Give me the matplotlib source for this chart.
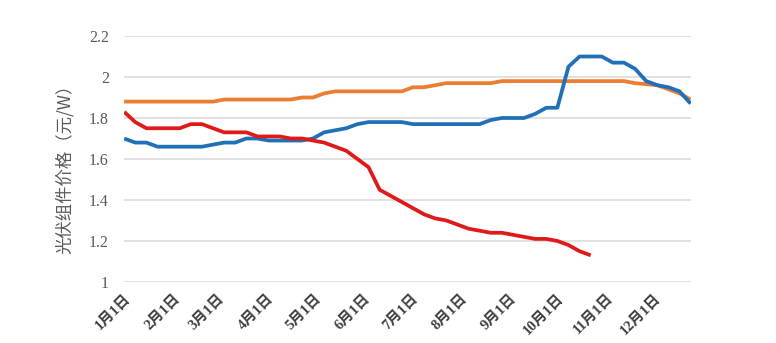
import numpy as np
import matplotlib
matplotlib.use('Agg')
import matplotlib.pyplot as plt

# weekly prices (yuan/W), one point per week of the year
blue = [1.70, 1.68, 1.68, 1.66, 1.66, 1.66, 1.66, 1.66, 1.67, 1.68, 1.68, 1.70,
        1.70, 1.69, 1.69, 1.69, 1.69, 1.70, 1.73, 1.74, 1.75, 1.77, 1.78, 1.78,
        1.78, 1.78, 1.77, 1.77, 1.77, 1.77, 1.77, 1.77, 1.77, 1.79, 1.80, 1.80,
        1.80, 1.82, 1.85, 1.85, 2.05, 2.10, 2.10, 2.10, 2.07, 2.07, 2.04, 1.98,
        1.96, 1.95, 1.93, 1.87]
orange = [1.88, 1.88, 1.88, 1.88, 1.88, 1.88, 1.88, 1.88, 1.88, 1.89, 1.89, 1.89,
          1.89, 1.89, 1.89, 1.89, 1.90, 1.90, 1.92, 1.93, 1.93, 1.93, 1.93, 1.93,
          1.93, 1.93, 1.95, 1.95, 1.96, 1.97, 1.97, 1.97, 1.97, 1.97, 1.98, 1.98,
          1.98, 1.98, 1.98, 1.98, 1.98, 1.98, 1.98, 1.98, 1.98, 1.98, 1.97, 1.965,
          1.96, 1.94, 1.92, 1.89]
red = [1.83, 1.78, 1.75, 1.75, 1.75, 1.75, 1.77, 1.77, 1.75, 1.73, 1.73, 1.73,
       1.71, 1.71, 1.71, 1.70, 1.70, 1.69, 1.68, 1.66, 1.64, 1.60, 1.56, 1.45,
       1.42, 1.39, 1.36, 1.33, 1.31, 1.30, 1.28, 1.26, 1.25, 1.24, 1.24, 1.23,
       1.22, 1.21, 1.21, 1.20, 1.18, 1.15, 1.13]
month_days = [0, 31, 59, 90, 120, 151, 181, 212, 243, 273, 304, 334]
month_labels = ['%d月1日' % m for m in range(1, 13)]
yticks = [1, 1.2, 1.4, 1.6, 1.8, 2, 2.2]

BLUE, ORANGE, RED = '#1f70b8', '#ec7d31', '#e01a1a'
GRID = '#d9d9d9'

fig = plt.figure(figsize=(7.76, 3.43), dpi=100)
ax = fig.add_axes([0.160, 0.178, 0.730, 0.717])

ax.plot(np.arange(len(orange)), orange, color=ORANGE, lw=2.7, solid_capstyle='butt', zorder=3)
ax.plot(np.arange(len(red)), red, color=RED, lw=2.7, solid_capstyle='butt', zorder=4)
ax.plot(np.arange(len(blue)), blue, color=BLUE, lw=2.7, solid_capstyle='butt', zorder=3)

ax.set_xlim(0, len(blue) - 1)
ax.set_ylim(1, 2.2)
ax.set_yticks(yticks)
ax.set_yticklabels(['%g' % v for v in yticks], family='Liberation Serif',
                   fontsize=11.5, color='#595959')
ax.yaxis.grid(True, color=GRID, lw=1.1)
ax.set_axisbelow(True)
ax.tick_params(axis='both', length=0)
ax.tick_params(axis='y', pad=11)

ax.set_xticks([d / 7 for d in month_days])
ax.set_xticklabels(month_labels, rotation=45, ha='right', rotation_mode='anchor',
                   family=['Liberation Serif', 'Noto Sans CJK SC'], fontweight='bold',
                   fontsize=10.5, color='#404040')
ax.tick_params(axis='x', pad=7)

for s in ['top', 'right', 'left', 'bottom']:
    ax.spines[s].set_visible(False)

ax.set_ylabel('光伏组件价格（元/W）', family=['Noto Sans CJK SC', 'DejaVu Sans'],
              fontsize=12.5, color='#595959')
ax.yaxis.set_label_coords(-0.088, 0.476)

fig.savefig('out.png', dpi=100, facecolor='white')
